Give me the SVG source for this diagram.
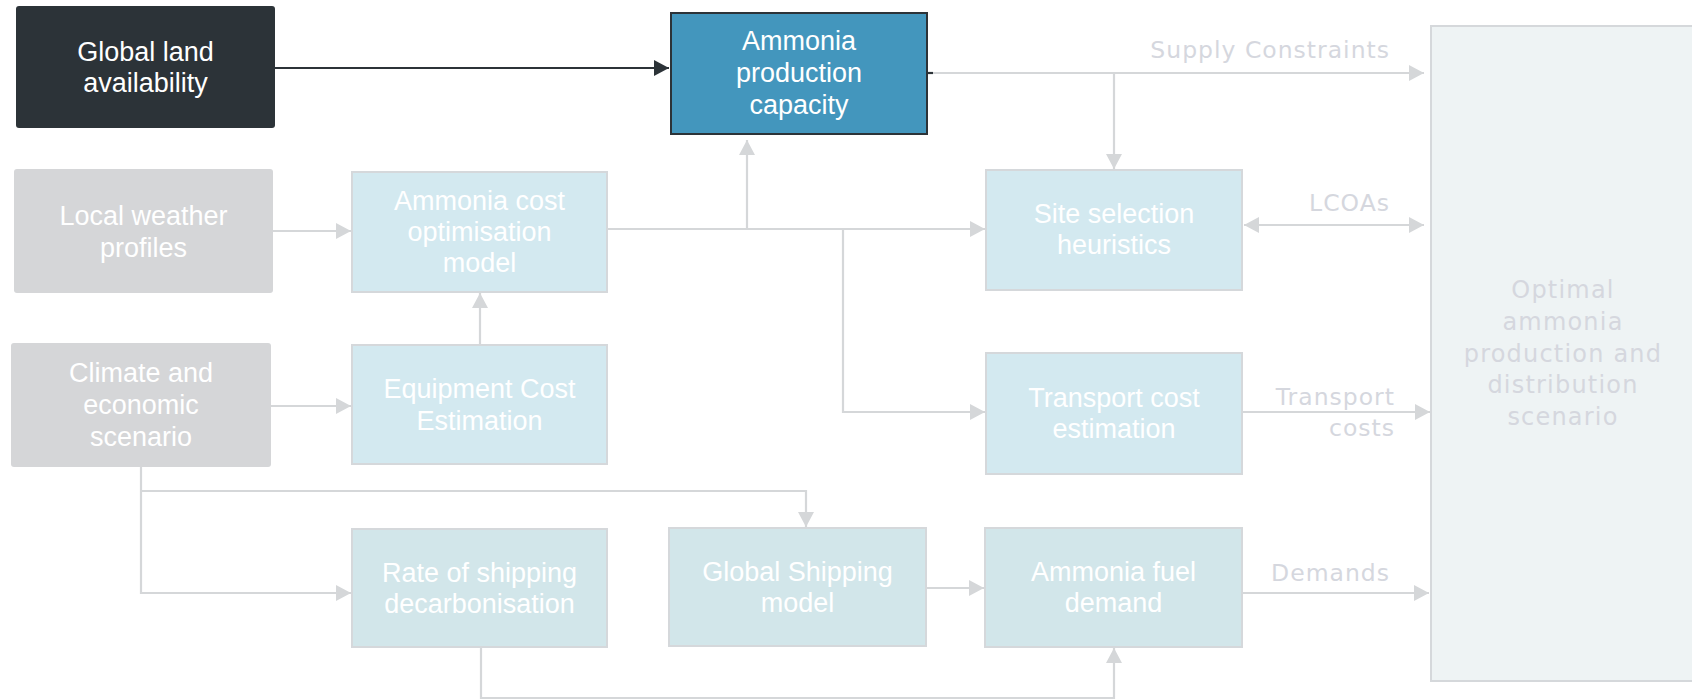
<svg xmlns="http://www.w3.org/2000/svg" width="1692" height="700" viewBox="0 0 1692 700">
<style>
.nt{font-family:"Liberation Sans",Arial,sans-serif;font-size:27px;fill:#ffffff;text-anchor:middle}
.lb{font-family:"DejaVu Sans",sans-serif;font-size:23.5px;fill:#d5d7de;letter-spacing:1px;text-anchor:end}
.ot{font-family:"DejaVu Sans",sans-serif;font-size:24px;fill:#d5d7de;letter-spacing:1.2px;text-anchor:middle}
.lt{fill:#d3e9f0;stroke:#d5d8db;stroke-width:2}
.tl{fill:#d2e6ea;stroke:#d5d8db;stroke-width:2}
.gr{fill:#d5d6d8}
.cn{fill:none;stroke:#d5d7d9;stroke-width:2.2}
.cd{fill:none;stroke:#2c3338;stroke-width:2.2}
</style>
<defs>
<marker id="ag" markerUnits="userSpaceOnUse" markerWidth="17" markerHeight="16" refX="15" refY="8" orient="auto-start-reverse">
<path d="M0,0 L15,8 L0,16 Z" fill="#d5d7d9"/>
</marker>
<marker id="ad" markerUnits="userSpaceOnUse" markerWidth="17" markerHeight="16" refX="15" refY="8" orient="auto">
<path d="M0,0 L15,8 L0,16 Z" fill="#2c3338"/>
</marker>
</defs>

<g id="connectors">
<path class="cd" d="M275,68 H669" marker-end="url(#ad)"/>
<path class="cn" d="M927,73 H1424" marker-end="url(#ag)"/>
<path class="cd" d="M927,73 H933"/>
<path class="cn" d="M1114,73 V169" marker-end="url(#ag)"/>
<path class="cn" d="M1244,225 H1424" marker-start="url(#ag)" marker-end="url(#ag)"/>
<path class="cn" d="M273,231 H351" marker-end="url(#ag)"/>
<path class="cn" d="M607,229 H985" marker-end="url(#ag)"/>
<path class="cn" d="M747,229 V140" marker-end="url(#ag)"/>
<path class="cn" d="M843,229 V412 H985" marker-end="url(#ag)"/>
<path class="cn" d="M480,345 V293" marker-end="url(#ag)"/>
<path class="cn" d="M271,406 H351" marker-end="url(#ag)"/>
<path class="cn" d="M141,467 V593 H351" marker-end="url(#ag)"/>
<path class="cn" d="M141,491 H806 V527" marker-end="url(#ag)"/>
<path class="cn" d="M926,588 H984" marker-end="url(#ag)"/>
<path class="cn" d="M481,647 V698 H1114 V648" marker-end="url(#ag)"/>
<path class="cn" d="M1242,412 H1430" marker-end="url(#ag)"/>
<path class="cn" d="M1242,593 H1429" marker-end="url(#ag)"/>
</g>

<g id="n-global-land">
<rect x="16" y="6" width="259" height="122" rx="3" fill="#2c3338"/>
<text class="nt" x="145.5" y="61">Global land</text>
<text class="nt" x="145.5" y="92">availability</text>
</g>

<g id="n-ammonia-production">
<rect x="671" y="13" width="256" height="121" fill="#4396bd" stroke="#2c3338" stroke-width="2"/>
<text class="nt" x="799" y="50">Ammonia</text>
<text class="nt" x="799" y="82">production</text>
<text class="nt" x="799" y="114">capacity</text>
</g>

<g id="n-local-weather">
<rect x="14" y="169" width="259" height="124" rx="3" class="gr"/>
<text class="nt" x="143.5" y="225">Local weather</text>
<text class="nt" x="143.5" y="257">profiles</text>
</g>

<g id="n-ammonia-cost">
<rect x="352" y="172" width="255" height="120" class="lt"/>
<text class="nt" x="479.5" y="210">Ammonia cost</text>
<text class="nt" x="479.5" y="241">optimisation</text>
<text class="nt" x="479.5" y="272">model</text>
</g>

<g id="n-climate">
<rect x="11" y="343" width="260" height="124" rx="3" class="gr"/>
<text class="nt" x="141" y="382">Climate and</text>
<text class="nt" x="141" y="414">economic</text>
<text class="nt" x="141" y="446">scenario</text>
</g>

<g id="n-equipment">
<rect x="352" y="345" width="255" height="119" class="lt"/>
<text class="nt" x="479.5" y="398">Equipment Cost</text>
<text class="nt" x="479.5" y="430">Estimation</text>
</g>

<g id="n-site-selection">
<rect x="986" y="170" width="256" height="120" class="lt"/>
<text class="nt" x="1114" y="223">Site selection</text>
<text class="nt" x="1114" y="254">heuristics</text>
</g>

<g id="n-transport-cost">
<rect x="986" y="353" width="256" height="121" class="lt"/>
<text class="nt" x="1114" y="407">Transport cost</text>
<text class="nt" x="1114" y="438">estimation</text>
</g>

<g id="n-rate-shipping">
<rect x="352" y="529" width="255" height="118" class="tl"/>
<text class="nt" x="479.5" y="582">Rate of shipping</text>
<text class="nt" x="479.5" y="613">decarbonisation</text>
</g>

<g id="n-global-shipping">
<rect x="669" y="528" width="257" height="118" class="tl"/>
<text class="nt" x="797.5" y="581">Global Shipping</text>
<text class="nt" x="797.5" y="612">model</text>
</g>

<g id="n-ammonia-fuel">
<rect x="985" y="528" width="257" height="119" class="tl"/>
<text class="nt" x="1113.5" y="581">Ammonia fuel</text>
<text class="nt" x="1113.5" y="612">demand</text>
</g>

<g id="n-optimal">
<rect x="1431" y="26" width="266" height="655" fill="#eef3f4" stroke="#d5d8db" stroke-width="2"/>
<text class="ot" x="1563" y="298">Optimal</text>
<text class="ot" x="1563" y="330">ammonia</text>
<text class="ot" x="1563" y="362">production and</text>
<text class="ot" x="1563" y="393">distribution</text>
<text class="ot" x="1563" y="425">scenario</text>
</g>

<g id="labels">
<text class="lb" x="1390" y="58">Supply Constraints</text>
<text class="lb" x="1390" y="211">LCOAs</text>
<text class="lb" x="1395" y="405">Transport</text>
<text class="lb" x="1395" y="436">costs</text>
<text class="lb" x="1390" y="581">Demands</text>
</g>
</svg>
